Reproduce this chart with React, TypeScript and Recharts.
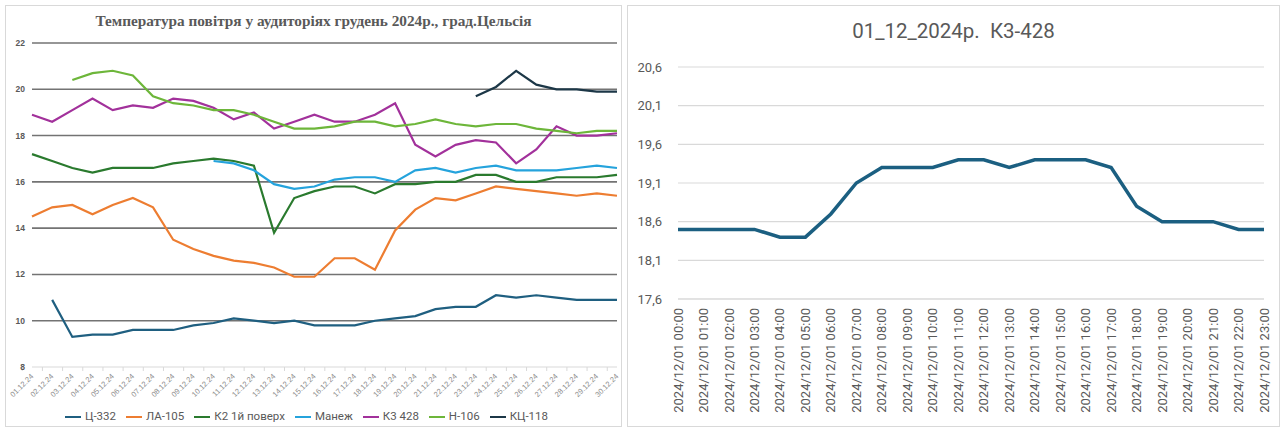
import React from 'react';
import { LineChart, Line, XAxis, YAxis, CartesianGrid, Legend, ReferenceLine } from 'recharts';

// ---- monthly chart (left) ----
const days = [
  '01.12.24', '02.12.24', '03.12.24', '04.12.24', '05.12.24', '06.12.24', '07.12.24', '08.12.24',
  '09.12.24', '10.12.24', '11.12.24', '12.12.24', '13.12.24', '14.12.24', '15.12.24', '16.12.24',
  '17.12.24', '18.12.24', '19.12.24', '20.12.24', '21.12.24', '22.12.24', '23.12.24', '24.12.24',
  '25.12.24', '26.12.24', '27.12.24', '28.12.24', '29.12.24', '30.12.24',
];

const ts332 = [null, 10.9, 9.3, 9.4, 9.4, 9.6, 9.6, 9.6, 9.8, 9.9, 10.1, 10.0, 9.9, 10.0, 9.8, 9.8, 9.8, 10.0, 10.1, 10.2, 10.5, 10.6, 10.6, 11.1, 11.0, 11.1, 11.0, 10.9, 10.9, 10.9];
const la105 = [14.5, 14.9, 15.0, 14.6, 15.0, 15.3, 14.9, 13.5, 13.1, 12.8, 12.6, 12.5, 12.3, 11.9, 11.9, 12.7, 12.7, 12.2, 13.9, 14.8, 15.3, 15.2, 15.5, 15.8, 15.7, 15.6, 15.5, 15.4, 15.5, 15.4];
const k2 = [17.2, 16.9, 16.6, 16.4, 16.6, 16.6, 16.6, 16.8, 16.9, 17.0, 16.9, 16.7, 13.8, 15.3, 15.6, 15.8, 15.8, 15.5, 15.9, 15.9, 16.0, 16.0, 16.3, 16.3, 16.0, 16.0, 16.2, 16.2, 16.2, 16.3];
const manezh = [null, null, null, null, null, null, null, null, null, 16.9, 16.8, 16.5, 15.9, 15.7, 15.8, 16.1, 16.2, 16.2, 16.0, 16.5, 16.6, 16.4, 16.6, 16.7, 16.5, 16.5, 16.5, 16.6, 16.7, 16.6];
const k3428 = [18.9, 18.6, 19.1, 19.6, 19.1, 19.3, 19.2, 19.6, 19.5, 19.2, 18.7, 19.0, 18.3, 18.6, 18.9, 18.6, 18.6, 18.9, 19.4, 17.6, 17.1, 17.6, 17.8, 17.7, 16.8, 17.4, 18.4, 18.0, 18.0, 18.1];
const n106 = [null, null, 20.4, 20.7, 20.8, 20.6, 19.7, 19.4, 19.3, 19.1, 19.1, 18.9, 18.6, 18.3, 18.3, 18.4, 18.6, 18.6, 18.4, 18.5, 18.7, 18.5, 18.4, 18.5, 18.5, 18.3, 18.2, 18.1, 18.2, 18.2];
const kc118 = [null, null, null, null, null, null, null, null, null, null, null, null, null, null, null, null, null, null, null, null, null, null, 19.7, 20.1, 20.8, 20.2, 20.0, 20.0, 19.9, 19.9];

const monthTicks = [8, 10, 12, 14, 16, 18, 20, 22];

const series = [
  { key: 'Ц-332', values: ts332, color: '#1f5f80' },
  { key: 'ЛА-105', values: la105, color: '#ed7d31' },
  { key: 'К2 1й поверх', values: k2, color: '#2a7a2e' },
  { key: 'Манеж', values: manezh, color: '#25a3dc' },
  { key: 'К3 428', values: k3428, color: '#a2319b' },
  { key: 'Н-106', values: n106, color: '#6db63a' },
  { key: 'КЦ-118', values: kc118, color: '#1c3747' },
];

const monthData = days.map((d, i) => {
  const row: any = { day: d };
  series.forEach((s) => { row[s.key] = s.values[i]; });
  return row;
});

// ---- hourly chart (right) ----
const hours = [
  '2024/12/01 00:00', '2024/12/01 01:00', '2024/12/01 02:00', '2024/12/01 03:00', '2024/12/01 04:00',
  '2024/12/01 05:00', '2024/12/01 06:00', '2024/12/01 07:00', '2024/12/01 08:00', '2024/12/01 09:00',
  '2024/12/01 10:00', '2024/12/01 11:00', '2024/12/01 12:00', '2024/12/01 13:00', '2024/12/01 14:00',
  '2024/12/01 15:00', '2024/12/01 16:00', '2024/12/01 17:00', '2024/12/01 18:00', '2024/12/01 19:00',
  '2024/12/01 20:00', '2024/12/01 21:00', '2024/12/01 22:00', '2024/12/01 23:00',
];
const hourTemps = [18.5, 18.5, 18.5, 18.5, 18.4, 18.4, 18.7, 19.1, 19.3, 19.3, 19.3, 19.4, 19.4, 19.3, 19.4, 19.4, 19.4, 19.3, 18.8, 18.6, 18.6, 18.6, 18.5, 18.5];
const hourTicks = [17.6, 18.1, 18.6, 19.1, 19.6, 20.1, 20.6];

const hourData = hours.map((h, i) => ({ time: h, temp: hourTemps[i] }));

const DayTick = (props: any) => {
  const { x, y, payload } = props;
  return (
    <g>
      <line x1={x - 9.75} x2={x - 9.75} y1={y - 5} y2={y - 1} stroke="#d9d9d9" />
      <text
        x={x}
        y={y + 3}
        transform={`rotate(-45, ${x}, ${y + 3})`}
        textAnchor="end"
        dy="0.35em"
        fontSize={7.5}
        fill="#8c8c8c"
        fontFamily="Liberation Sans, Arial, sans-serif"
      >
        {payload.value}
      </text>
    </g>
  );
};

const HourTick = (props: any) => {
  const { x, y, payload } = props;
  return (
    <text
      x={x}
      y={y}
      transform={`rotate(-90, ${x}, ${y})`}
      textAnchor="end"
      dy="0.35em"
      fontSize={13}
      fill="#595959"
      fontFamily="Roboto, sans-serif"
    >
      {payload.value}
    </text>
  );
};

const legendOrder = (item: any) => series.findIndex((s) => s.key === item.value);

export default function App() {
  return (
    <div style={{ position: 'absolute', left: 0, top: 0, width: 1283, height: 429, background: '#fff' }}>
      <div
        style={{
          position: 'absolute', left: 5, top: 5, width: 617, height: 422,
          border: '1px solid #d9d9d9', boxSizing: 'border-box',
        }}
      >
        <div
          style={{
            position: 'absolute', left: 0, top: 6, width: 615, textAlign: 'center',
            fontFamily: 'Liberation Serif, Times New Roman, serif', fontWeight: 'bold',
            fontSize: 15.3, color: '#595959',
          }}
        >
          Температура повітря у аудиторіях грудень 2024р., град.Цельсія
        </div>
        <div style={{ position: 'absolute', left: 0, top: 0 }}>
          <LineChart width={615} height={420} data={monthData} margin={{ top: 37, right: 4, left: 0, bottom: 0 }}>
            {monthTicks.filter((t) => t > 8).map((t) => (
              <ReferenceLine key={t} y={t} stroke="#737373" strokeWidth={1.6} />
            ))}
            <XAxis
              dataKey="day"
              interval={0}
              height={40}
              tickLine={false}
              tickSize={0}
              tickMargin={5}
              axisLine={{ stroke: '#d9d9d9' }}
              tick={<DayTick />}
            />
            <YAxis
              width={26}
              domain={[8, 22]}
              ticks={monthTicks}
              tickLine={false}
              axisLine={false}
              tickSize={0}
              tickMargin={7}
              tick={{ fontSize: 8.5, fontWeight: 'bold', fill: '#595959', fontFamily: 'Liberation Sans, Arial, sans-serif' }}
            />
            <Legend
              verticalAlign="bottom"
              iconType="plainline"
              iconSize={16}
              itemSorter={legendOrder}
              wrapperStyle={{ fontFamily: 'Roboto, sans-serif', fontSize: 11.5, lineHeight: '19px' }}
              formatter={(v: string) => <span style={{ color: '#595959' }}>{v}</span>}
            />
            {series.map((s) => (
              <Line
                key={s.key}
                type="linear"
                dataKey={s.key}
                stroke={s.color}
                strokeWidth={2.2}
                dot={false}
                isAnimationActive={false}
              />
            ))}
          </LineChart>
        </div>
      </div>

      <div
        style={{
          position: 'absolute', left: 627, top: 5, width: 653, height: 422,
          border: '1px solid #d9d9d9', boxSizing: 'border-box',
        }}
      >
        <div
          style={{
            position: 'absolute', left: 0, top: 13, width: 651, textAlign: 'center',
            fontFamily: 'Roboto, sans-serif', fontSize: 20.5, color: '#595959', whiteSpace: 'pre',
          }}
        >
          {'01_12_2024р.  К3-428'}
        </div>
        <div style={{ position: 'absolute', left: 0, top: 0 }}>
          <LineChart width={651} height={420} data={hourData} margin={{ top: 61, right: 15, left: 0, bottom: 0 }}>
            <CartesianGrid vertical={false} stroke="#d9d9d9" strokeWidth={1.2} />
            <XAxis
              dataKey="time"
              interval={0}
              height={127}
              tickLine={false}
              tickSize={0}
              tickMargin={9}
              axisLine={{ stroke: '#d9d9d9' }}
              tick={<HourTick />}
            />
            <YAxis
              width={50}
              domain={[17.6, 20.6]}
              ticks={hourTicks}
              tickLine={false}
              axisLine={false}
              tickSize={0}
              tickMargin={16}
              tickFormatter={(v: number) => v.toFixed(1).replace('.', ',')}
              tick={{ fontSize: 13, fill: '#595959', fontFamily: 'Roboto, sans-serif' }}
            />
            <Line
              type="linear"
              dataKey="temp"
              stroke="#1b5f81"
              strokeWidth={3.5}
              dot={false}
              isAnimationActive={false}
            />
          </LineChart>
        </div>
      </div>
    </div>
  );
}
